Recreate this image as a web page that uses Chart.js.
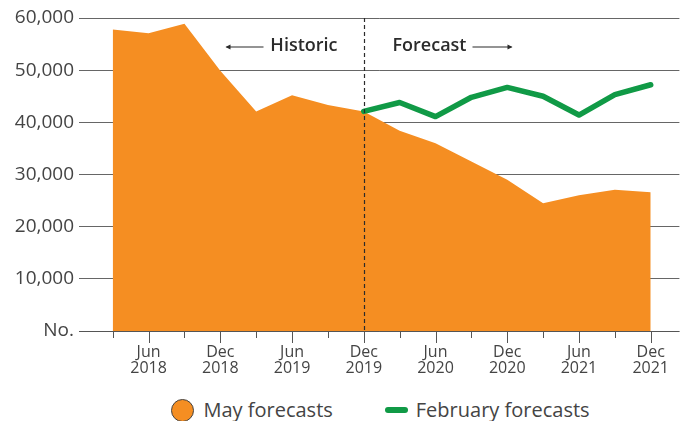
<!DOCTYPE html>
<html>
<head>
<meta charset="utf-8">
<script src="https://cdn.jsdelivr.net/npm/chart.js@4"></script>
<style>
  body { margin: 0; background: #fff; font-family: "Open Sans", sans-serif; }
  .wrap { position: relative; width: 682px; height: 421px; overflow: hidden; }
  .chart-box { position: absolute; left: 0; top: 0; width: 682px; height: 390px; }
  .legend {
    position: absolute; left: 79px; top: 398px; width: 603px; height: 24px;
    display: flex; justify-content: center; align-items: center; gap: 52px;
    font-size: 20px; line-height: 24px; color: #444;
  }
  .legend__item { display: flex; align-items: center; white-space: nowrap; }
  .legend__dot { width: 21px; height: 21px; border-radius: 50%; border: 1px solid #444; margin-right: 9px; }
  .legend__line { width: 23px; height: 6px; border-radius: 3px; margin-right: 8px; }
</style>
</head>
<body>
<div class="wrap">
  <div class="chart-box"><canvas id="chart"></canvas></div>
  <div class="legend" id="legend"></div>
</div>
<script>
// Quarterly values, Mar 2018 - Dec 2021
const quarters = [
  'Mar 2018', 'Jun 2018', 'Sep 2018', 'Dec 2018',
  'Mar 2019', 'Jun 2019', 'Sep 2019', 'Dec 2019',
  'Mar 2020', 'Jun 2020', 'Sep 2020', 'Dec 2020',
  'Mar 2021', 'Jun 2021', 'Sep 2021', 'Dec 2021'
];
const mayForecasts = [
  57800, 57100, 58900, 49900, 42100, 45200, 43300, 42100,
  38400, 36000, 32500, 29000, 24500, 26000, 27100, 26600
];
const febForecasts = [
  null, null, null, null, null, null, null, 42100,
  43800, 41100, 44800, 46700, 45000, 41400, 45300, 47200
];
const yTicks = [0, 10000, 20000, 30000, 40000, 50000, 60000];
const dividerQuarter = 'Dec 2019';
const leftLabel = 'Historic';
const rightLabel = 'Forecast';

const ORANGE = '#F58E22';
const GREEN = '#109A46';
const GRID = '#666';
const INK = '#2b2b2b';

const toPoints = arr => arr.map((v, i) => ({ x: i, y: v }));

// ticks, baseline, divider line and Historic/Forecast labels
const annotations = {
  id: 'annotations',
  afterDatasetsDraw(chart) {
    const { ctx, chartArea, scales: { x } } = chart;
    const bottom = chartArea.bottom;
    ctx.save();

    // baseline
    ctx.strokeStyle = '#555';
    ctx.lineWidth = 1;
    ctx.beginPath();
    ctx.moveTo(chartArea.left, Math.round(bottom) + 0.5);
    ctx.lineTo(chartArea.right, Math.round(bottom) + 0.5);
    ctx.stroke();

    // quarter ticks, longer ones under the labels
    quarters.forEach((q, i) => {
      const px = Math.round(x.getPixelForValue(i)) + 0.5;
      const len = /^(Jun|Dec)/.test(q) ? 12 : 7;
      ctx.beginPath();
      ctx.moveTo(px, bottom);
      ctx.lineTo(px, bottom + len);
      ctx.stroke();
    });

    // dashed divider
    const dx = Math.round(x.getPixelForValue(quarters.indexOf(dividerQuarter))) + 0.5;
    ctx.strokeStyle = INK;
    ctx.lineWidth = 1.2;
    ctx.setLineDash([4, 3]);
    ctx.beginPath();
    ctx.moveTo(dx, chartArea.top);
    ctx.lineTo(dx, bottom);
    ctx.stroke();
    ctx.setLineDash([]);

    // labels with arrows
    const ty = chartArea.top + 28;
    ctx.fillStyle = INK;
    ctx.font = '600 18px "Open Sans"';
    ctx.textBaseline = 'middle';
    ctx.textAlign = 'right';
    ctx.fillText(leftLabel, dx - 27, ty);
    ctx.textAlign = 'left';
    ctx.fillText(rightLabel, dx + 28, ty);

    ctx.lineWidth = 1.2;
    drawArrow(ctx, dx - 101, dx - 138, ty + 1);
    drawArrow(ctx, dx + 108, dx + 147, ty + 1);
    ctx.restore();
  }
};

function drawArrow(ctx, from, to, y) {
  const dir = Math.sign(to - from);
  ctx.beginPath();
  ctx.moveTo(from, y);
  ctx.lineTo(to, y);
  ctx.stroke();
  ctx.beginPath();
  ctx.moveTo(to + dir, y);
  ctx.lineTo(to - dir * 4, y - 2.5);
  ctx.lineTo(to - dir * 4, y + 2.5);
  ctx.closePath();
  ctx.fill();
}

const chart = new Chart(document.getElementById('chart'), {
  type: 'line',
  data: {
    datasets: [
      {
        label: 'May forecasts',
        data: toPoints(mayForecasts),
        backgroundColor: ORANGE,
        borderWidth: 0,
        pointRadius: 0,
        fill: 'origin',
        tension: 0,
        order: 2,
      },
      {
        label: 'February forecasts',
        data: toPoints(febForecasts),
        borderColor: GREEN,
        borderWidth: 5.5,
        borderCapStyle: 'round',
        borderJoinStyle: 'round',
        pointRadius: 0,
        fill: false,
        tension: 0,
        order: 1,
      }
    ]
  },
  options: {
    responsive: true,
    maintainAspectRatio: false,
    animation: false,
    layout: { padding: { top: 18, right: 0, bottom: 0, left: 0 } },
    plugins: { legend: { display: false }, tooltip: { enabled: false } },
    scales: {
      x: {
        type: 'linear',
        min: -0.94,
        max: 15.8,
        afterBuildTicks: scale => { scale.ticks = quarters.map((q, i) => ({ value: i })); },
        afterFit: scale => { scale.height = 59; },
        grid: { display: false, drawTicks: false },
        border: { display: false },
        ticks: {
          autoSkip: false,
          maxRotation: 0,
          padding: 13,
          color: '#444',
          font: { family: 'Open Sans', size: 16, lineHeight: 1.0 },
          callback: v => {
            const q = quarters[v] || '';
            return /^(Jun|Dec)/.test(q) ? q.split(' ') : '';
          }
        }
      },
      y: {
        min: 0,
        max: 60000,
        afterBuildTicks: scale => { scale.ticks = yTicks.map(v => ({ value: v })); },
        afterFit: scale => { scale.width = 79; },
        grid: { color: GRID, lineWidth: 1, drawTicks: false },
        border: { display: false },
        ticks: {
          padding: 5,
          color: '#444',
          font: { family: 'Open Sans', size: 19 },
          callback: v => v === 0 ? 'No.' : v.toLocaleString('en-US')
        }
      }
    }
  },
  plugins: [annotations]
});

// html legend
document.getElementById('legend').innerHTML = chart.data.datasets.map(ds => `
  <div class="legend__item">
    ${ds.fill ? `<span class="legend__dot" style="background:${ds.backgroundColor}"></span>`
              : `<span class="legend__line" style="background:${ds.borderColor}"></span>`}
    <span>${ds.label}</span>
  </div>`).join('');
</script>
</body>
</html>
